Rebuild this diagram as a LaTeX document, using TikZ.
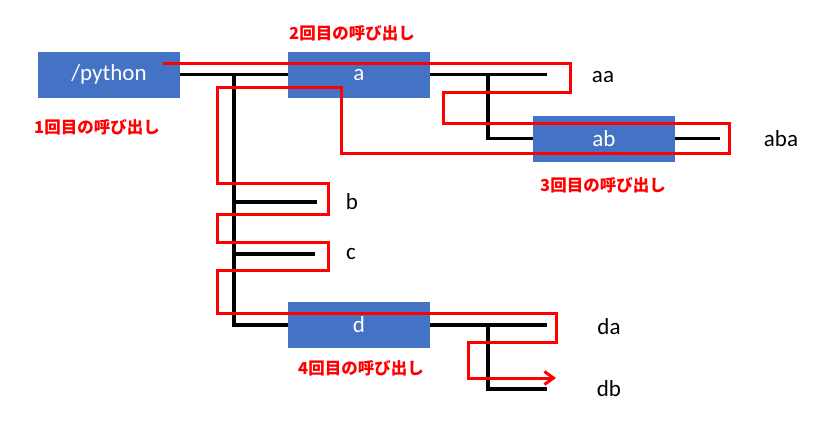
\documentclass[tikz,border=0pt]{standalone}
\usepackage{fontspec}
\setmainfont{Carlito}
\newfontfamily\jpfont{Noto Sans CJK JP}
\usetikzlibrary{arrows.meta}
\definecolor{boxblue}{HTML}{4472C4}
\begin{document}
\begin{tikzpicture}[x=1pt, y=-1pt, line join=miter, >={Straight Barb[length=9pt,width=13pt]},
	box/.style={fill=boxblue, text=white, minimum width=142pt, minimum height=46pt, inner sep=0pt, font=\fontsize{23}{26}\selectfont},
	leaf/.style={font=\fontsize{23}{26}\selectfont},
	call/.style={text=red, font=\jpfont\bfseries\fontsize{16.5}{19}\selectfont},
	tree/.style={line width=3.2pt},
	trace/.style={red, line width=3pt}]
			\useasboundingbox (0,0) rectangle (827,434);
			% boxes
			\node[box] (python) at (109,74.5) {/python};
			\node[box] (a) at (359,74.5) {a};
			\node[box] (ab) at (604,138.5) {ab};
			\node[box] (d) at (359,325) {d};
			% leaves
			\foreach \name/\x/\y in {aa/603/77, aba/781/139, b/352/202, c/351/254, da/609/327, db/609/389}
			\node[leaf] (\name) at (\x,\y) {\name};
			% calls
			\node[call] (call1) at (97,127) {1回目の呼び出し};
			\node[call] (call2) at (352,33) {2回目の呼び出し};
			\node[call] (call3) at (603,185) {3回目の呼び出し};
			\node[call] (call4) at (361,368) {4回目の呼び出し};
			% tree
			\coordinate (j1) at (234,74.5);
			\coordinate (j2) at (488,74.5);
			\coordinate (j3) at (488,325);
			\coordinate (bend) at (317,202);
			\coordinate (cend) at (315,254);
			\coordinate (aaend) at (547,74.5);
			\coordinate (abaend) at (720,138.5);
			\coordinate (daend) at (547,325);
			\coordinate (dbend) at (547,389);
			\draw[tree] (python.east) -- (a.west);
			\draw[tree] (j1) -- (j1 |- d.west) -- (d.west);
			\draw[tree] (j1 |- bend) -- (bend);
			\draw[tree] (j1 |- cend) -- (cend);
			\draw[tree] (a.east) -- (aaend);
			\draw[tree] (j2) -- (j2 |- ab.west) -- (ab.west);
			\draw[tree] (ab.east) -- (abaend);
			\draw[tree] (d.east) -- (daend);
			\draw[tree] (j3) -- (j3 |- dbend) -- (dbend);
			% trace
			\draw[trace, ->] (163,63.5) -- (570,63.5) -- (570,92) -- (443,92) -- (443,123) -- (729,123) -- (729,153)
				-- (341,153) -- (341,87) -- (217,87) -- (217,183) -- (328,183) -- (328,214) -- (217,214)
				-- (217,242) -- (328,242) -- (328,270) -- (217,270) -- (217,313) -- (556,313) -- (556,342)
				-- (468,342) -- (468,378) -- (556,378);
		\end{tikzpicture}
\end{document}
